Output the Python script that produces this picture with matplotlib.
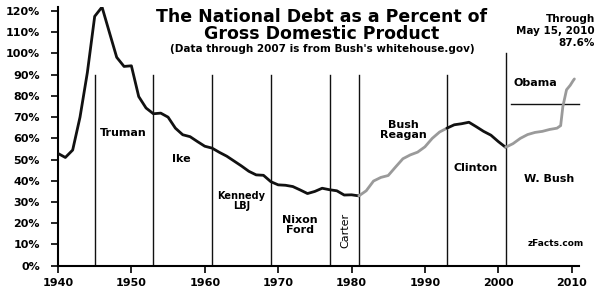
import matplotlib
matplotlib.use("Agg")
import matplotlib.pyplot as plt

# deuda publica / PIB (%)
anios = [1940, 1941, 1942, 1943, 1944, 1945, 1946, 1947, 1948, 1949,
         1950, 1951, 1952, 1953, 1954, 1955, 1956, 1957, 1958, 1959,
         1960, 1961, 1962, 1963, 1964, 1965, 1966, 1967, 1968, 1969,
         1970, 1971, 1972, 1973, 1974, 1975, 1976, 1977, 1978, 1979,
         1980, 1981, 1982, 1983, 1984, 1985, 1986, 1987, 1988, 1989,
         1990, 1991, 1992, 1993, 1994, 1995, 1996, 1997, 1998, 1999,
         2000, 2001, 2002, 2003, 2004, 2005, 2006, 2007, 2008,
         2008.5, 2008.8, 2009.3, 2009.8, 2010.2, 2010.37]
deuda = [52.9, 51.0, 54.5, 70.0, 91.0, 117.5, 121.9, 110.0, 98.2, 93.9,
         94.2, 79.7, 74.3, 71.6, 71.9, 70.0, 64.8, 61.7, 60.8, 58.5,
         56.3, 55.4, 53.4, 51.6, 49.3, 47.0, 44.5, 42.8, 42.6, 39.6,
         38.1, 37.9, 37.3, 35.7, 34.0, 35.0, 36.5, 35.8, 35.3, 33.3,
         33.4, 32.9, 35.3, 39.9, 41.6, 42.5, 46.5, 50.4, 52.2, 53.5,
         56.0, 60.0, 63.0, 64.8, 66.4, 66.9, 67.6, 65.5, 63.3, 61.5,
         58.5, 55.8, 57.5, 60.0, 61.8, 62.8, 63.3, 64.2, 64.8,
         66.0, 75.0, 82.9, 85.0, 87.2, 88.0]

# tramos de color (republicanos recientes en gris)
tramos = [(1940, 1981, "#111111"), (1981, 1993, "#9a9a9a"),
          (1993, 2001, "#111111"), (2001, 2011, "#9a9a9a")]

# inicio de cada presidencia y altura de la linea
inicios = [1945, 1953, 1961, 1969, 1977, 1981, 1993, 2001]
alturas = [90, 90, 90, 90, 90, 90, 90, 100]

presidentes = ["Truman", "Ike", "Kennedy\nLBJ", "Nixon\nFord", "Carter",
               "Bush\nReagan", "Clinton", "W. Bush", "Obama"]
pos_x = [1948.9, 1956.85, 1965.0, 1973.0, 1979.1, 1987.0, 1996.95, 2006.9, 2005.0]
pos_y = [62.6, 50.2, 30.5, 19.3, 16.8, 63.8, 45.9, 40.8, 86.0]

fig = plt.figure(figsize=(6, 2.89), dpi=100)
ax = fig.add_axes([58 / 600, 1 - 265.7 / 289, 521 / 600, 258.9 / 289])

for ini, fin, color in tramos:
    xs = [a for a in anios if ini <= a <= fin]
    ys = [d for a, d in zip(anios, deuda) if ini <= a <= fin]
    ax.plot(xs, ys, color=color, lw=2.0, solid_capstyle="round", zorder=3)

for a, h in zip(inicios, alturas):
    ax.plot([a, a], [0, h], color="#111111", lw=1.0, zorder=2)

# linea horizontal junto a Obama
ax.plot([2001.8, 2011], [76, 76], color="#111111", lw=1.0, clip_on=False)

for nombre, x, y in zip(presidentes, pos_x, pos_y):
    if nombre == "Carter":
        ax.text(x, y, nombre, rotation=90, ha="center", va="center",
                fontsize=8)
    elif "Kennedy" in nombre:
        ax.text(x, y, nombre, ha="center", va="center", fontsize=7,
                fontweight="semibold", linespacing=1.0)
    else:
        ax.text(x, y, nombre, ha="center", va="center", fontsize=8,
                fontweight="bold", linespacing=1.0)

ax.text(2007.85, 10.6, "zFacts.com", ha="center", va="center",
        fontsize=6.5, fontweight="bold")

ax.set_xlim(1940, 2011)
ax.set_ylim(0, 122)
ax.set_xticks(range(1940, 2011, 10))
ax.set_yticks(range(0, 121, 10))
ax.set_yticklabels([f"{v}%" for v in range(0, 121, 10)])
for lab in ax.get_xticklabels() + ax.get_yticklabels():
    lab.set_fontweight("bold")
ax.tick_params(labelsize=8, length=5, width=1.2)
ax.tick_params(axis="y", pad=8)
ax.tick_params(axis="x", pad=4)
ax.spines["top"].set_visible(False)
ax.spines["right"].set_visible(False)
ax.spines["left"].set_linewidth(1.5)
ax.spines["bottom"].set_linewidth(1.5)

fig.text(322 / 600, 1 - 17 / 289, "The National Debt as a Percent of",
         ha="center", va="center", fontsize=12.5, fontweight="bold")
fig.text(322 / 600, 1 - 34 / 289, "Gross Domestic Product",
         ha="center", va="center", fontsize=12.5, fontweight="bold")
fig.text(322 / 600, 1 - 49 / 289,
         "(Data through 2007 is from Bush's whitehouse.gov)",
         ha="center", va="center", fontsize=7.5, fontweight="bold")
fig.text(595 / 600, 1 - 31 / 289, "Through\nMay 15, 2010\n87.6%",
         ha="right", va="center", fontsize=7.5, fontweight="bold",
         multialignment="right", linespacing=1.25)

fig.savefig("out.png", dpi=100)
